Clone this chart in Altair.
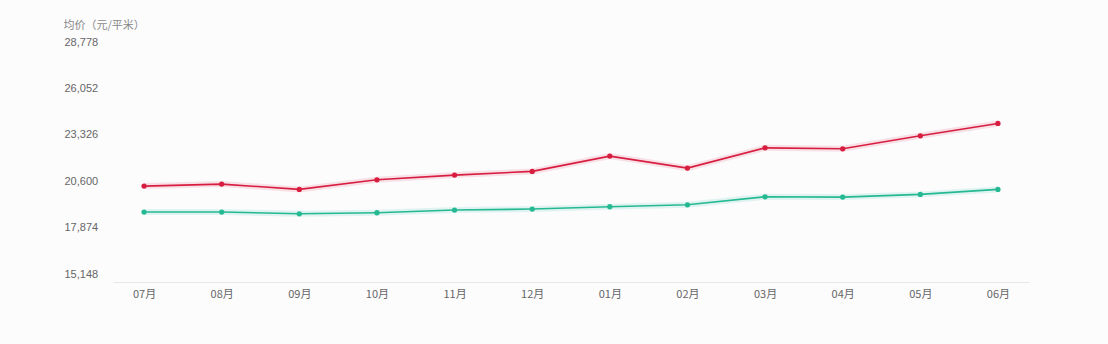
import altair as alt
import pandas as pd

months = ["07月", "08月", "09月", "10月", "11月", "12月", "01月", "02月", "03月", "04月", "05月", "06月"]
red_values = [20324, 20441, 20131, 20693, 20969, 21186, 22083, 21379, 22569, 22511, 23273, 24000]
green_values = [18800, 18800, 18700, 18759, 18917, 18976, 19111, 19228, 19697, 19679, 19838, 20131]
y_ticks = [15148, 17874, 20600, 23326, 26052, 28778]
series_names = ["A", "B"]
series_colors = ["#d81e40", "#25b993"]

rows = []
for m, v in zip(months, red_values):
    rows.append({"month": m, "value": v, "series": series_names[0]})
for m, v in zip(months, green_values):
    rows.append({"month": m, "value": v, "series": series_names[1]})
df = pd.DataFrame(rows)

x = alt.X("month:N", sort=months,
          scale=alt.Scale(type="point", padding=0.4),
          axis=alt.Axis(title=None, labelAngle=0, ticks=False, tickSize=0,
                        labelColor="#666666", labelFontSize=11, labelPadding=6,
                        domainColor="#e8e8e8", grid=False, labelFont="Noto Sans CJK SC"))
y = alt.Y("value:Q",
          scale=alt.Scale(domain=[14697, 28778], zero=False, nice=False),
          axis=alt.Axis(values=y_ticks, format=",d", title="均价（元/平米）",
                        titleAngle=0, titleAlign="left", titleX=-50, titleY=-17,
                        titleBaseline="middle", titleFontSize=11, titleFontWeight="normal",
                        titleColor="#888888", titleFont="Noto Sans CJK SC",
                        labelAlign="left", labelPadding=49, tickSize=0, ticks=False,
                        labelColor="#666666", labelFontSize=11, labelBaseline="middle",
                        domain=False, grid=False))
color = alt.Color("series:N", scale=alt.Scale(domain=series_names, range=series_colors), legend=None)

base = alt.Chart(df).encode(x=x, y=y, color=color)
glow = base.mark_line(strokeWidth=6, opacity=0.12)
line = base.mark_line(strokeWidth=1.6)
pts = base.mark_circle(size=28, opacity=1)

chart = (glow + line + pts).properties(
    width=916, height=240,
    autosize=alt.AutoSizeParams(type="none"),
    padding={"left": 113, "top": 42, "right": 79, "bottom": 62},
    background="#fcfcfd",
).configure_view(stroke=None)

chart.save("out.html", embed_options={"renderer": "svg", "actions": False})
